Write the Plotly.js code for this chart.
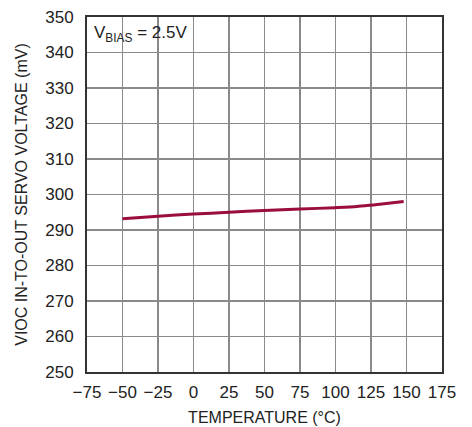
<!DOCTYPE html>
<html>
<head>
<meta charset="utf-8">
<script src="https://cdn.plot.ly/plotly-3.0.1.min.js"></script>
<style>html,body{margin:0;padding:0;background:#fff;}#chart{width:472px;height:427px;}</style>
</head>
<body>
<div id="chart"></div>
<script>
// Data
const temperature = [-50, -25, 0, 25, 50, 75, 100, 115, 125, 148];
const servoVoltage = [293.2, 293.9, 294.5, 295.0, 295.5, 295.9, 296.3, 296.6, 297.0, 298.0];
const xTicks = [-75, -50, -25, 0, 25, 50, 75, 100, 125, 150, 175];
const yTicks = [250, 260, 270, 280, 290, 300, 310, 320, 330, 340, 350];

const FONT = "'Liberation Sans Narrow', 'Arial Narrow', 'Liberation Sans', sans-serif";

const trace = {
  x: temperature,
  y: servoVoltage,
  type: 'scatter',
  mode: 'lines',
  line: {color: '#9b0d3a', width: 3, shape: 'spline', smoothing: 0.6},
  hoverinfo: 'skip'
};

const axisCommon = {
  showline: true, mirror: true, linecolor: '#333', linewidth: 2,
  showgrid: true, gridcolor: '#8a8a8a', gridwidth: 1.2,
  zeroline: false, ticks: '',
  tickfont: {family: FONT, size: 17, color: '#222'}
};

const layout = {
  width: 472, height: 427,
  margin: {l: 86.5, r: 30, t: 17, b: 55},
  paper_bgcolor: '#fff', plot_bgcolor: '#fff',
  showlegend: false,
  xaxis: Object.assign({}, axisCommon, {
    range: [-75, 175], tickmode: 'array', tickvals: xTicks,
    ticklabelstandoff: 4,
    ticktext: xTicks.map(v => v < 0 ? '\u2212' + Math.abs(v) : String(v)),
    title: {text: 'TEMPERATURE (°C)', font: {family: FONT, size: 16, color: '#222'}, standoff: 10}
  }),
  yaxis: Object.assign({}, axisCommon, {
    range: [250, 350], tickmode: 'array', tickvals: yTicks,
    ticklabelstandoff: 8,
    title: {text: 'VIOC IN-TO-OUT SERVO VOLTAGE (mV)', font: {family: FONT, size: 16, color: '#222'}, standoff: 14}
  }),
  shapes: [{
    type: 'rect', xref: 'x', yref: 'y', x0: -74, x1: -40, y0: 340.4, y1: 349.6,
    fillcolor: '#fff', line: {width: 0}, layer: 'below'
  }],
  annotations: [{
    xref: 'paper', yref: 'paper', x: 0.015, y: 0.99, xanchor: 'left', yanchor: 'top',
    text: 'V<sub>BIAS</sub> = 2.5V', showarrow: false,
    font: {family: FONT, size: 17, color: '#222'}
  }]
};

Plotly.newPlot('chart', [trace], layout, {displayModeBar: false, staticPlot: true});
</script>
</body>
</html>
